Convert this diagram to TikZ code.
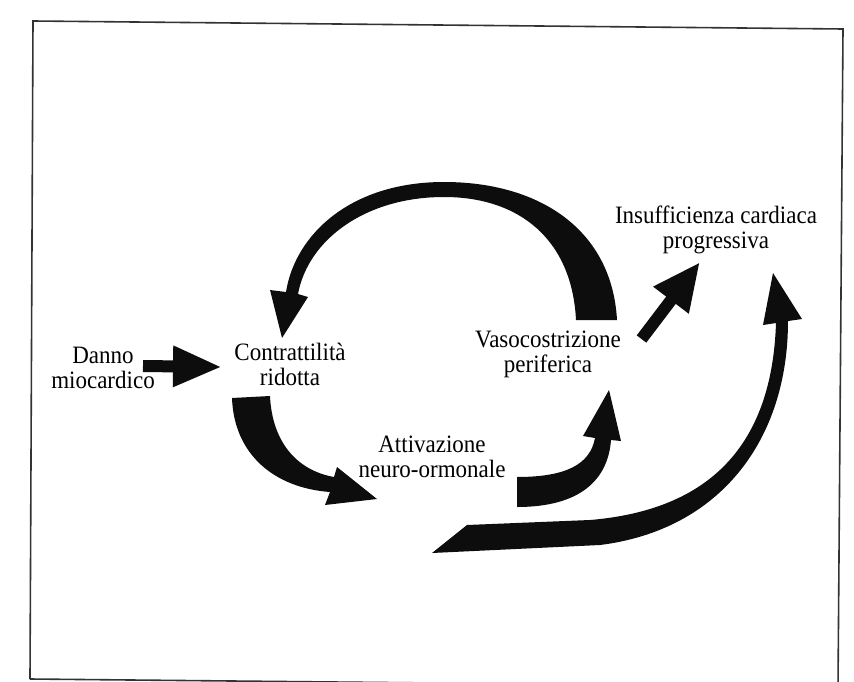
\documentclass[tikz,border=0pt]{standalone}
\usepackage{fontspec}
\setmainfont{Liberation Serif}[FakeStretch=0.92]
\usetikzlibrary{arrows.meta}
\begin{document}
\begin{tikzpicture}[x=1pt,y=-1pt,
  lbl/.style={align=center, anchor=base, inner sep=0pt, font=\fontsize{25}{25}\selectfont},
  fat/.style={fill=black!95, draw=none},
  fatline/.style={draw=black!95, line width=12pt}
]
\fill[white] (0,0) rectangle (854,682);
\useasboundingbox (0,0) rectangle (854,682);
% frame
\draw[line width=1.6pt, black!80] (30,679) -- (33,21) -- (843,29) -- (838,687);
\draw[line width=1.6pt, black!80] (30,679) -- (838,687);
% labels (anchor base = baseline of the last line)
\node[lbl] (danno)  at (103,388) {Danno\\miocardico};
\node[lbl] (contr)  at (290,385) {Contrattilità\\ridotta};
\node[lbl] (vaso)   at (548,372) {Vasocostrizione\\periferica};
\node[lbl] (attiv)  at (432,477) {Attivazione\\neuro-ormonale};
\node[lbl] (insuff) at (716,248) {Insufficienza cardiaca\\progressiva};
% Danno -> Contrattilita
\draw[fatline, -{Triangle[length=49pt,width=38pt]}] (143,366) -- (222,367);
% Vasocostrizione -> Insufficienza
\draw[fatline, -{Triangle[length=48pt,width=41pt]}] (641.5,339) -- (700,262);
% big arc Vasocostrizione -> Contrattilita
\fill[fat] (617,320) .. controls (612,230) and (540,182) .. (444,182)
  .. controls (350,182) and (295,235) .. (286,292) -- (270,290) -- (282,338) -- (308,297)
  -- (298,294) .. controls (308,240) and (365,197) .. (444,197)
  .. controls (520,197) and (572,240) .. (576,320) -- cycle;
% Contrattilita -> Attivazione
\fill[fat] (232,398) .. controls (234,455) and (275,488) .. (330,492) -- (325,505)
  -- (377,499) -- (337,467) -- (334,477) .. controls (295,470) and (272,440) .. (270,396) -- cycle;
% Attivazione -> Vasocostrizione
\fill[fat] (517,507) .. controls (580,507) and (608,480) .. (611,440) -- (621,441)
  -- (609,390) -- (583,436) -- (595,438) .. controls (590,465) and (565,477) .. (517,477) -- cycle;
% long arrow -> Insufficienza
\fill[fat] (432,553) -- (467,525) -- (590,520) .. controls (710,510) and (772,445) .. (776,323)
  -- (763,325) -- (773,273) -- (802,319) -- (788,321)
  .. controls (788,440) and (720,530) .. (600,545) -- cycle;
\end{tikzpicture}
\end{document}
